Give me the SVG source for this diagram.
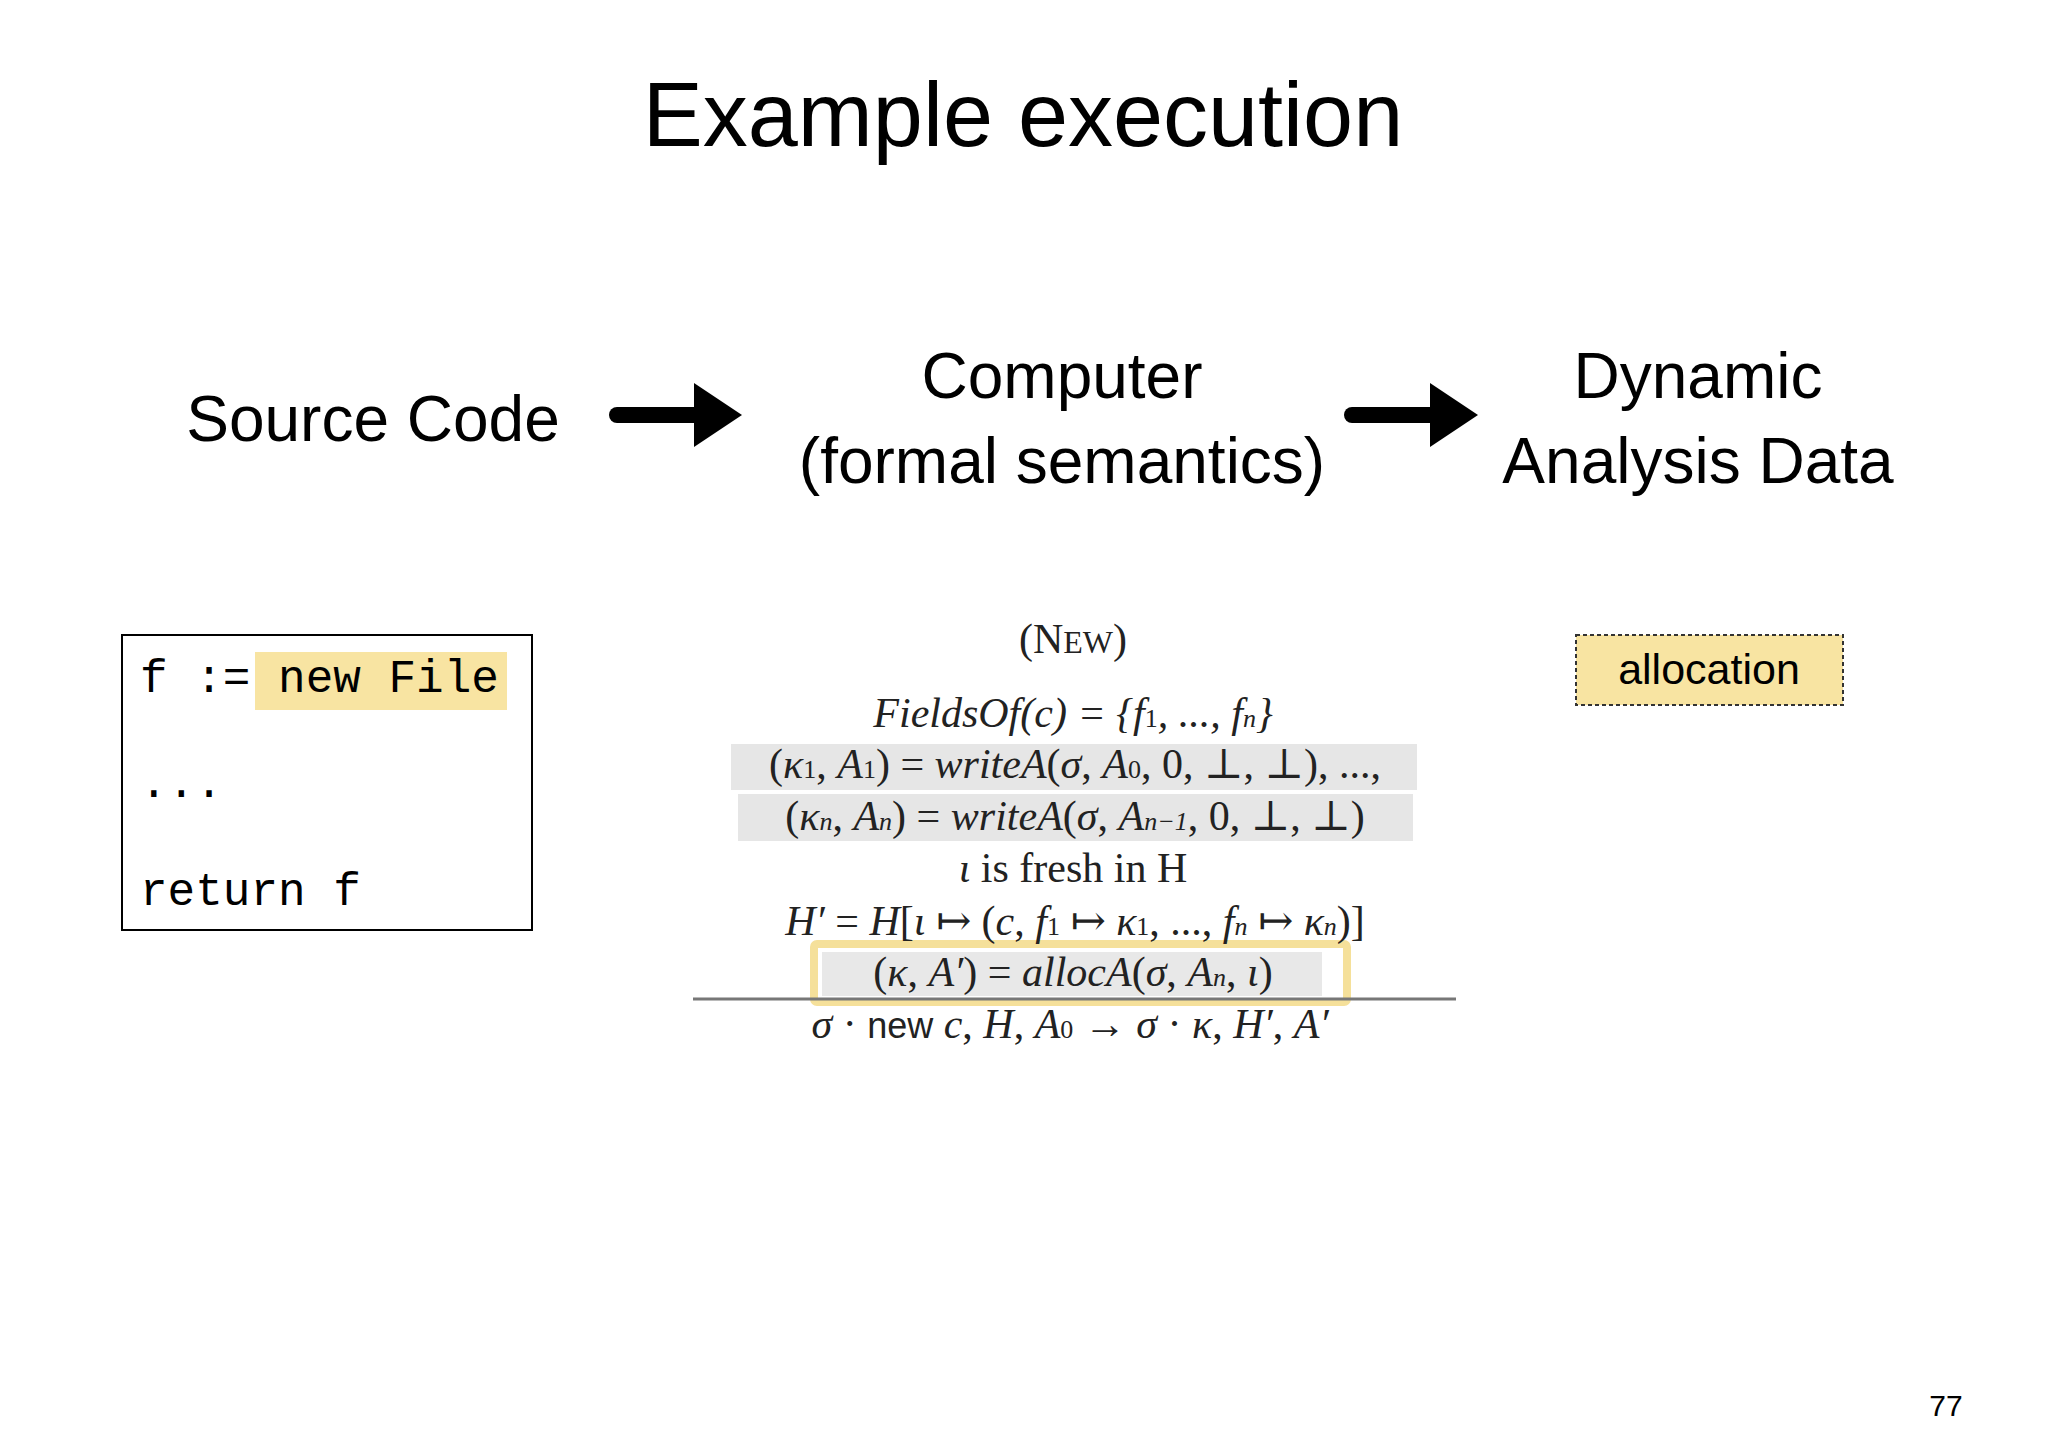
<svg xmlns="http://www.w3.org/2000/svg" width="2048" height="1448" viewBox="0 0 2048 1448">
<style>
.h{font-family:"Liberation Sans",Arial,sans-serif;fill:#000}
.m{font-family:"Liberation Mono","DejaVu Sans Mono",monospace;font-size:46px;fill:#000}
.f{font-family:"Liberation Serif","DejaVu Serif",serif;font-size:42px;fill:#222;text-anchor:middle}
.i{font-style:italic}
</style>
<defs><marker id="ah" markerWidth="4" markerHeight="4" refX="1.5" refY="2" orient="auto" markerUnits="strokeWidth"><path d="M0,0 L3,2 L0,4 Z" fill="#000"/></marker></defs>
<rect width="2048" height="1448" fill="#fff"/>
<text class="h" x="1023" y="146" font-size="90" text-anchor="middle">Example execution</text>
<g id="source"><text class="h" x="373" y="441" font-size="64" text-anchor="middle">Source Code</text></g>
<g id="computer"><text class="h" x="1062" y="398" font-size="64" text-anchor="middle">Computer</text><text class="h" x="1062" y="483" font-size="64" text-anchor="middle">(formal semantics)</text></g>
<g id="dynamic"><text class="h" x="1698" y="398" font-size="64" text-anchor="middle">Dynamic</text><text class="h" x="1698" y="483" font-size="64" text-anchor="middle">Analysis Data</text></g>
<g id="connectors" stroke="#000" stroke-width="16" stroke-linecap="round" fill="none">
<line x1="617" y1="415" x2="718" y2="415" marker-end="url(#ah)"/>
<line x1="1352" y1="415" x2="1454" y2="415" marker-end="url(#ah)"/>
</g>
<g id="code">
<rect x="122" y="635" width="410" height="295" fill="#fff" stroke="#000" stroke-width="2"/>
<rect x="255" y="652" width="252" height="58" fill="#f8e4a2"/>
<text class="m" x="140" y="692" xml:space="preserve">f := new File</text>
<text class="m" x="140" y="797">...</text>
<text class="m" x="140" y="905">return f</text>
</g>
<g id="allocation">
<rect x="1576" y="635" width="267" height="70" fill="#f8e4a2" stroke="#333" stroke-width="2" stroke-dasharray="4,3"/>
<text class="h" x="1709" y="684" font-size="43" text-anchor="middle" fill="#222">allocation</text>
</g>
<g id="rule">
<rect x="731" y="744" width="686" height="46" fill="#e6e6e6"/>
<rect x="738" y="794" width="675" height="47" fill="#e6e6e6"/>
<rect x="814" y="944" width="533" height="58" fill="none" stroke="#f5e09a" stroke-width="8" rx="3"/>
<rect x="822" y="952" width="500" height="44" fill="#e8e8e8"/>
<text class="f" x="1073" y="653">(N<tspan font-size="32">EW</tspan>)</text>
<text class="f i" x="1073" y="727">FieldsOf(c) = {f<tspan font-size="26" font-style="normal">1</tspan>, ..., f<tspan font-size="26">n</tspan>}</text>
<text class="f" x="1075" y="778">(<tspan class="i">κ</tspan><tspan font-size="26">1</tspan>, <tspan class="i">A</tspan><tspan font-size="26">1</tspan>) = <tspan class="i">writeA</tspan>(<tspan class="i">σ</tspan>, <tspan class="i">A</tspan><tspan font-size="26">0</tspan>, 0, ⊥, ⊥), ...,</text>
<text class="f" x="1075" y="830">(<tspan class="i">κ<tspan font-size="26">n</tspan></tspan>, <tspan class="i">A<tspan font-size="26">n</tspan></tspan>) = <tspan class="i">writeA</tspan>(<tspan class="i">σ</tspan>, <tspan class="i">A</tspan><tspan class="i" font-size="26">n−1</tspan>, 0, ⊥, ⊥)</text>
<text class="f" x="1073" y="882" font-family="Liberation Sans,sans-serif" font-size="38"><tspan font-family="Liberation Serif,serif" class="i">ι</tspan> is fresh in H</text>
<text class="f" x="1075" y="935"><tspan class="i">H′</tspan> = <tspan class="i">H</tspan>[<tspan class="i">ι</tspan> ↦ (<tspan class="i">c</tspan>, <tspan class="i">f</tspan><tspan font-size="26">1</tspan> ↦ <tspan class="i">κ</tspan><tspan font-size="26">1</tspan>, ..., <tspan class="i">f<tspan font-size="26">n</tspan></tspan> ↦ <tspan class="i">κ<tspan font-size="26">n</tspan></tspan>)]</text>
<text class="f" x="1073" y="986">(<tspan class="i">κ</tspan>, <tspan class="i">A′</tspan>) = <tspan class="i">allocA</tspan>(<tspan class="i">σ</tspan>, <tspan class="i">A<tspan font-size="26">n</tspan></tspan>, <tspan class="i">ι</tspan>)</text>
<line x1="693" y1="999" x2="1456" y2="999" stroke="#777" stroke-width="3"/>
<text class="f" x="1070" y="1038"><tspan class="i">σ</tspan> · <tspan font-family="Liberation Sans,sans-serif" font-size="36">new</tspan> <tspan class="i">c</tspan>, <tspan class="i">H</tspan>, <tspan class="i">A</tspan><tspan font-size="26">0</tspan> → <tspan class="i">σ</tspan> · <tspan class="i">κ</tspan>, <tspan class="i">H′</tspan>, <tspan class="i">A′</tspan></text>
</g>
<text class="h" x="1946" y="1416" font-size="30" text-anchor="middle">77</text>
</svg>
